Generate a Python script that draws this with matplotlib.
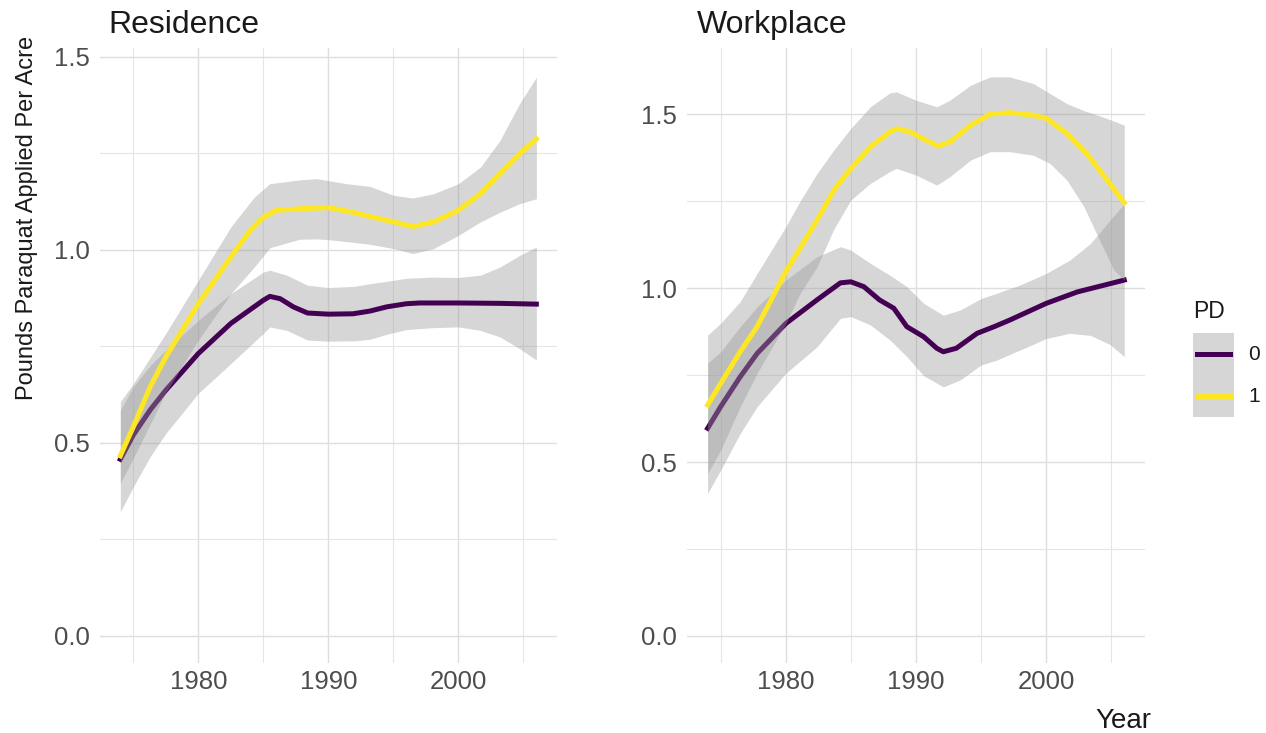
import matplotlib
matplotlib.use("Agg")
from matplotlib import pyplot as plt
from matplotlib.patches import Rectangle
from matplotlib.lines import Line2D

plt.rcParams['font.family'] = ['Liberation Sans', 'DejaVu Sans']

# ---- Residence ----
res_x0 = [1974, 1975, 1976.3, 1977.5, 1980, 1982.5, 1985, 1985.5, 1986.3, 1987.3, 1988.4, 1990,
          1991.9, 1993.2, 1994.5, 1996, 1997, 2000, 2003.2, 2006]
res_fit0 = [0.457, 0.52, 0.585, 0.636, 0.731, 0.809, 0.869, 0.879, 0.873, 0.852, 0.836, 0.833,
            0.834, 0.841, 0.852, 0.860, 0.862, 0.862, 0.861, 0.859]
res_band_x0 = [1974, 1975, 1976.3, 1977.5, 1980, 1982.5, 1985, 1985.5, 1986.8, 1988.4, 1990, 1992,
               1993.2, 1994.5, 1996, 1998, 2000, 2001.7, 2003.2, 2004.7, 2006]
res_hi0 = [0.584, 0.645, 0.70, 0.74, 0.817, 0.886, 0.942, 0.947, 0.934, 0.908, 0.902, 0.905,
           0.912, 0.918, 0.926, 0.929, 0.928, 0.934, 0.955, 0.985, 1.007]
res_lo0 = [0.321, 0.386, 0.464, 0.524, 0.628, 0.705, 0.783, 0.80, 0.791, 0.766, 0.763, 0.764,
           0.768, 0.781, 0.793, 0.798, 0.80, 0.791, 0.774, 0.744, 0.714]

res_x1 = [1974, 1975, 1976.3, 1977.5, 1980, 1982.5, 1984, 1985, 1986, 1987.8, 1990, 1991.9,
          1993.2, 1994.5, 1996.5, 1998.1, 2000, 2001.7, 2003.2, 2004.7, 2006]
res_fit1 = [0.466, 0.541, 0.645, 0.722, 0.86, 0.981, 1.05, 1.084, 1.102, 1.106, 1.109, 1.097,
            1.086, 1.076, 1.06, 1.072, 1.102, 1.145, 1.197, 1.248, 1.287]
res_band_x1 = [1974, 1975, 1977.5, 1980, 1982.5, 1984.3, 1985.5, 1987.8, 1989.1, 1990, 1991.4,
               1993.2, 1995, 1996.5, 1998.1, 2000, 2001.7, 2003.2, 2004.7, 2006]
res_hi1 = [0.606, 0.653, 0.783, 0.921, 1.059, 1.136, 1.171, 1.181, 1.184, 1.179, 1.171,
           1.164, 1.141, 1.134, 1.145, 1.171, 1.214, 1.283, 1.378, 1.447]
res_lo1 = [0.395, 0.46, 0.63, 0.766, 0.886, 0.955, 1.005, 1.027, 1.028, 1.026, 1.021,
           1.014, 1.003, 0.99, 1.003, 1.037, 1.072, 1.097, 1.119, 1.132]

# ---- Workplace ----
wrk_x0 = [1974, 1975, 1976.5, 1977.8, 1980, 1982.4, 1984.2, 1985, 1986, 1987.2, 1988.3, 1989.3,
          1990.6, 1991.6, 1992.1, 1993.1, 1994.7, 1996, 1997.2, 2000, 2002.4, 2006]
wrk_fit0 = [0.597, 0.659, 0.745, 0.812, 0.898, 0.966, 1.015, 1.018, 1.004, 0.966, 0.942, 0.889,
            0.860, 0.827, 0.817, 0.827, 0.870, 0.889, 0.908, 0.956, 0.989, 1.023]
wrk_band_x0 = [1974, 1975, 1976.5, 1977.8, 1980, 1982.4, 1984.2, 1985, 1986.5, 1988, 1989.3,
               1990.6, 1992.1, 1993.4, 1995, 1996.2, 1998, 2000, 2001.8, 2003.4, 2004.9, 2006]
wrk_hi0 = [0.784, 0.817, 0.889, 0.946, 1.023, 1.09, 1.119, 1.109, 1.071, 1.037, 1.004,
           0.956, 0.922, 0.937, 0.970, 0.985, 1.009, 1.042, 1.08, 1.128, 1.195, 1.243]
wrk_lo0 = [0.41, 0.477, 0.582, 0.659, 0.755, 0.831, 0.913, 0.918, 0.894, 0.851, 0.803,
           0.748, 0.716, 0.736, 0.779, 0.793, 0.822, 0.855, 0.870, 0.864, 0.838, 0.803]

wrk_x1 = [1974, 1975, 1976.5, 1977.8, 1980, 1982.4, 1983.7, 1985, 1986.5, 1988, 1988.5, 1989.5,
          1990.5, 1991.7, 1992.6, 1994.2, 1995.7, 1997.2, 1999, 2000, 2001.6, 2003.1, 2004.7, 2006]
wrk_fit1 = [0.664, 0.726, 0.817, 0.889, 1.047, 1.195, 1.282, 1.344, 1.406, 1.449, 1.458, 1.45,
            1.43, 1.408, 1.42, 1.468, 1.50, 1.504, 1.497, 1.488, 1.444, 1.387, 1.31, 1.245]
wrk_band_x1 = [1974, 1975, 1976.5, 1977.8, 1980, 1981.1, 1982.4, 1983.7, 1985, 1986.5, 1988,
               1988.5, 1990, 1991.6, 1992.6, 1994.2, 1995.7, 1997.2, 1999, 2000.3, 2001.6,
               2002.9, 2004.1, 2005.2, 2006]
wrk_hi1 = [0.865, 0.899, 0.961, 1.042, 1.176, 1.25, 1.329, 1.397, 1.459, 1.521, 1.561,
           1.564, 1.54, 1.521, 1.540, 1.583, 1.607, 1.607, 1.588, 1.559, 1.53,
           1.51, 1.495, 1.48, 1.468]
wrk_lo1 = [0.467, 0.534, 0.659, 0.755, 0.898, 0.985, 1.061, 1.17, 1.253, 1.301, 1.335,
           1.344, 1.325, 1.296, 1.32, 1.368, 1.392, 1.392, 1.382, 1.358, 1.31,
           1.234, 1.138, 1.052, 1.023]

pd_levels = ['0', '1']
purple = '#440154'
yellow = '#FDE725'
band = '#999999'
LW = 3.6

fig = plt.figure(figsize=(12.66, 7.33), dpi=100)
ax1 = fig.add_axes([0.0786, 0.0955, 0.3615, 0.839])
ax2 = fig.add_axes([0.5425, 0.0955, 0.3620, 0.839])


def draw_panel(ax, groups, ylim):
    z = 2
    for bx, lo, hi, x, fit, col in groups:
        ax.fill_between(bx, lo, hi, color=band, alpha=0.4, lw=0, zorder=z)
        ax.plot(x, fit, color=col, lw=LW, solid_joinstyle='round', zorder=z + 1)
        z += 2
    ax.set_xlim(1972.4, 2007.6)
    ax.set_ylim(*ylim)
    ax.set_xticks([1980, 1990, 2000])
    ax.set_xticks([1975, 1985, 1995, 2005], minor=True)
    ax.set_yticks([0.0, 0.5, 1.0, 1.5])
    ax.set_yticks([0.25, 0.75, 1.25], minor=True)
    ax.yaxis.set_major_formatter(plt.FormatStrFormatter('%.1f'))
    ax.grid(True, which='major', color='#dedede', lw=1.0, zorder=0)
    ax.grid(True, which='minor', color='#e6e6e6', lw=0.8, zorder=0)
    ax.tick_params(which='both', length=0)
    ax.tick_params(axis='both', labelsize=18.5, labelcolor='#4d4d4d')
    ax.tick_params(axis='y', pad=7)
    ax.tick_params(axis='x', pad=5)
    for s in ax.spines.values():
        s.set_visible(False)
    ax.set_axisbelow(True)


draw_panel(ax1, [(res_band_x0, res_lo0, res_hi0, res_x0, res_fit0, purple),
                 (res_band_x1, res_lo1, res_hi1, res_x1, res_fit1, yellow)],
           (-0.0707, 1.5225))
draw_panel(ax2, [(wrk_band_x0, wrk_lo0, wrk_hi0, wrk_x0, wrk_fit0, purple),
                 (wrk_band_x1, wrk_lo1, wrk_hi1, wrk_x1, wrk_fit1, yellow)],
           (-0.0776, 1.690))

fig.text(108 / 1266, 0.955, 'Residence', fontsize=23, color='#1a1a1a', ha='left', va='baseline')
fig.text(697 / 1266, 0.955, 'Workplace', fontsize=23, color='#1a1a1a', ha='left', va='baseline')
fig.text(0.021, 0.7033, 'Pounds Paraquat Applied Per Acre', rotation=90,
         fontsize=17, color='#1a1a1a', ha='center', va='center')
fig.text(1151 / 1266, 0.0068, 'Year', fontsize=20, color='#1a1a1a', ha='right', va='baseline')

# legend drawn by hand to get the ggplot look (one grey key column)
fig.text(1193 / 1266, 1 - 318 / 733, 'PD', fontsize=16.5, color='#1a1a1a',
         ha='left', va='baseline')
fig.patches.append(Rectangle((1193 / 1266, 1 - 417 / 733), 41 / 1266, 84 / 733,
                             transform=fig.transFigure, facecolor=band, alpha=0.4,
                             edgecolor='none'))
for lab, col, ypx in zip(pd_levels, [purple, yellow], [354, 396]):
    yf = 1 - ypx / 733
    fig.lines.append(Line2D([1197 / 1266, 1230 / 1266], [yf, yf], transform=fig.transFigure,
                            color=col, lw=LW))
    fig.text(1248 / 1266, yf, lab, fontsize=15, color='#1a1a1a', ha='left', va='center')

fig.savefig('out.png', dpi=100)
